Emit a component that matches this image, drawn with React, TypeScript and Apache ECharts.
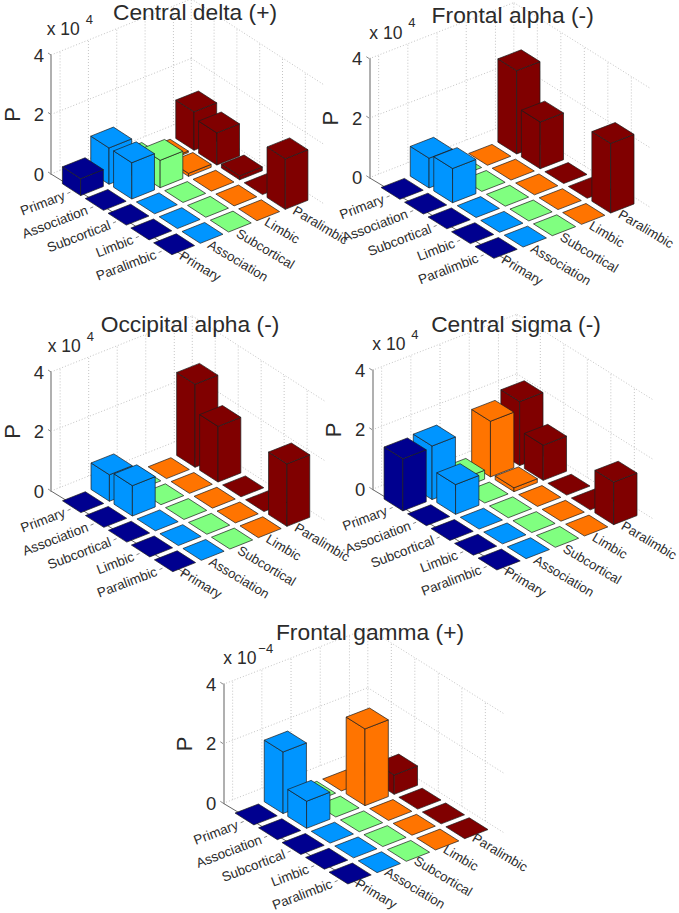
import React, { useEffect, useRef } from "react";
import * as echarts from "echarts";

const CATEGORIES = ["Primary", "Association", "Subcortical", "Limbic", "Paralimbic"];
const Z_TICKS = [0, 2, 4];

// Each inner list is one column (Primary..Paralimbic), values along the row axis (Primary..Paralimbic).
const CENTRAL_DELTA = [
  [0.57, 0, 0, 0, 0],
  [1.22, 1.22, 0, 0, 0],
  [0.32, 0.92, 0, 0, 0],
  [0.05, 0.1, 0, 0, 0],
  [1.29, 1.08, 0.13, 0, 1.7],
];
const FRONTAL_ALPHA = [
  [0, 0, 0, 0, 0],
  [1.0, 1.15, 0, 0, 0],
  [0, 0, 0, 0, 0],
  [0, 0, 0, 0, 0],
  [2.8, 1.57, 0, 0, 2.34],
];
const OCCIPITAL_ALPHA = [
  [0, 0, 0, 0, 0],
  [0.89, 1.02, 0, 0, 0],
  [0, 0, 0, 0, 0],
  [0, 0, 0, 0, 0],
  [2.79, 1.87, 0, 0, 2.1],
];
const CENTRAL_SIGMA = [
  [1.75, 0, 0, 0, 0],
  [1.8, 1.0, 0, 0, 0],
  [0.3, 0, 0, 0, 0],
  [1.87, 0.13, 0, 0, 0],
  [2.15, 1.18, 0, 0, 1.43],
];
const FRONTAL_GAMMA = [
  [0, 0, 0, 0, 0],
  [2.07, 0.91, 0, 0, 0],
  [0, 0, 0, 0, 0],
  [0, 2.58, 0, 0, 0],
  [0, 0.65, 0, 0, 0],
];

const TITLES = ["Central delta (+)", "Frontal alpha (-)", "Occipital alpha (-)", "Central sigma (-)", "Frontal gamma (+)"];
const EXPONENTS = ["4", "4", "4", "4", "\u22124"];
const MATRICES = [CENTRAL_DELTA, FRONTAL_ALPHA, OCCIPITAL_ALPHA, CENTRAL_SIGMA, FRONTAL_GAMMA];

// Pixel anchor (left floor corner) of each panel and title centre.
const ANCHORS = [[46.7, 174], [369.3, 177.7], [47.7, 491], [372.3, 489.3], [223.3, 803.3]];
const TITLE_CENTERS = [[195, 13], [512.7, 16], [190, 325], [516, 325.7], [370, 633]];
const COL_LABEL_DROP = [10.5, 10.5, 10.5, 10.5, 8.5];

const COL_COLORS = ["#00008f", "#0095ff", "#80ff80", "#ff7400", "#800000"];
const EDGE = "#1c1c1c";
const TEXT = "#2b2b2b";
const FONT = "Liberation Sans";

// Orthographic view, pixels per data unit.
const COL_X = 29.2, COL_Y = 11.33, ROW_X = 23.5, ROW_Y = 14.77, Z_UNIT = 29.75;
const C_MIN = -0.32, C_MAX = 4.63, R_MIN = -1.0, R_MAX = 4.82;
const BAR_W = 0.8;

// floor/wall coordinates -> the plane of the panel's cartesian axes
const plane = (c: number, r: number, z: number) => {
  const dc = c - C_MIN, dr = r - R_MIN;
  return [dc + (dr * ROW_X) / COL_X, z + (dc * COL_Y - dr * ROW_Y) / Z_UNIT];
};

const barRender = (color: string[]) => (_: any, api: any) => {
  const c = api.value(0), r = api.value(1), v = api.value(2);
  const h = BAR_W / 2;
  const P = (cc: number, rr: number, z: number) => api.coord(plane(cc, rr, z));
  const style = (fill: string) => ({ fill, stroke: EDGE, lineWidth: 0.7 });
  const fill = color[c];
  const kids: any[] = [];
  if (v > 0) {
    kids.push({ type: "polygon", shape: { points: [P(c - h, r - h, 0), P(c - h, r + h, 0), P(c - h, r + h, v), P(c - h, r - h, v)] }, style: style(fill) });
    kids.push({ type: "polygon", shape: { points: [P(c - h, r + h, 0), P(c + h, r + h, 0), P(c + h, r + h, v), P(c - h, r + h, v)] }, style: style(fill) });
  }
  kids.push({ type: "polygon", shape: { points: [P(c - h, r - h, v), P(c - h, r + h, v), P(c + h, r + h, v), P(c + h, r - h, v)] }, style: style(fill) });
  return { type: "group", children: kids };
};

const frameRender = (colDrop: number) => (_: any, api: any) => {
  const P = (c: number, r: number, z: number) => api.coord(plane(c, r, z));
  const kids: any[] = [];
  const dotted = { stroke: "#c4c4c4", lineWidth: 1, lineDash: [1, 2] };
  const seg = (a: number[], b: number[], style: any) =>
    kids.push({ type: "line", shape: { x1: a[0], y1: a[1], x2: b[0], y2: b[1] }, style });
  Z_TICKS.forEach((z) => {
    seg(P(C_MIN, R_MIN, z), P(C_MAX, R_MIN, z), dotted);
    seg(P(C_MAX, R_MIN, z), P(C_MAX, R_MAX, z), dotted);
    const t = P(C_MIN, R_MIN, z);
    seg(t, [t[0] - 3, t[1] - 2], { stroke: "#8a8a8a", lineWidth: 1 });
  });
  CATEGORIES.forEach((_n, i) => {
    seg(P(i, R_MIN, 0), P(i, R_MIN, 4), dotted);
    seg(P(C_MAX, i, 0), P(C_MAX, i, 4), dotted);
  });
  seg(P(C_MAX, R_MIN, 0), P(C_MAX, R_MIN, 4), dotted);
  // front row axis
  const F = P(C_MIN + 0.14, R_MIN + 5.73, 0);
  seg(P(C_MIN, R_MIN, 0), F, { stroke: "#666", lineWidth: 1 });
  CATEGORIES.forEach((name, i) => {
    const base = P(0, i, 0);
    const rowEnd = [base[0] - 18.5, base[1] + 9.8];
    const colBase = P(i, 4, 0);
    const colStart = [colBase[0] + 6.7, colBase[1] + colDrop];
    seg([rowEnd[0] + 3, rowEnd[1] - 1.5], [rowEnd[0] + 6, rowEnd[1] - 2.8], { stroke: "#888", lineWidth: 1 });
    kids.push({
      type: "text", x: rowEnd[0], y: rowEnd[1], rotation: (21 * Math.PI) / 180,
      style: { text: name, x: 0, y: 0, align: "right", verticalAlign: "middle", fill: TEXT, fontSize: 13.5, fontFamily: FONT },
    });
    kids.push({
      type: "text", x: colStart[0], y: colStart[1], rotation: (-31 * Math.PI) / 180,
      style: { text: name, x: 0, y: 0, align: "left", verticalAlign: "middle", fill: TEXT, fontSize: 13.2, fontFamily: FONT },
    });
  });
  return { type: "group", children: kids };
};

function buildOption() {
  const grid: any[] = [], xAxis: any[] = [], yAxis: any[] = [], series: any[] = [], title: any[] = [], graphic: any[] = [];
  MATRICES.forEach((matrix, p) => {
    const [lx, ly] = ANCHORS[p];
    grid.push({ left: lx, top: ly - 4 * Z_UNIT, width: 5 * COL_X, height: 4 * Z_UNIT });
    xAxis.push({ gridIndex: p, type: "value", min: 0, max: 5, show: false });
    yAxis.push({
      gridIndex: p, type: "value", min: 0, max: 4, interval: 2,
      name: "P", nameLocation: "middle", nameRotate: 90, nameGap: 28,
      nameTextStyle: { fontSize: 22, color: TEXT, fontFamily: FONT },
      axisLine: { show: true, lineStyle: { color: "#b0b0b0", width: 2 } },
      axisTick: { show: false },
      axisLabel: { fontSize: 18.5, color: TEXT, fontFamily: FONT, margin: 7 },
      splitLine: { show: false },
    });
    series.push({
      type: "custom", name: TITLES[p] + " frame", xAxisIndex: p, yAxisIndex: p, silent: true, z: 1,
      data: [[0, 0]], renderItem: frameRender(COL_LABEL_DROP[p]), clip: false,
    });
    const cells: number[][] = [];
    for (let c = matrix.length - 1; c >= 0; c--) {
      matrix[c].forEach((v, r) => cells.push([c, r, v]));
    }
    series.push({
      type: "custom", name: TITLES[p], xAxisIndex: p, yAxisIndex: p, silent: true, z: 3,
      data: cells, renderItem: barRender(COL_COLORS), clip: false,
    });
    const [tx, ty] = TITLE_CENTERS[p];
    title.push({
      text: TITLES[p], left: tx, top: ty - 13, textAlign: "center", padding: 0,
      textStyle: { fontSize: 22.8, fontWeight: "normal", color: TEXT, fontFamily: FONT },
    });
    graphic.push({
      type: "text", x: lx, y: ly - 145,
      style: { text: "x 10", verticalAlign: "middle", fill: TEXT, fontSize: 17.5, fontFamily: FONT },
    });
    graphic.push({
      type: "text", x: lx + (EXPONENTS[p].length > 1 ? 35 : 39), y: ly - 155,
      style: { text: EXPONENTS[p], verticalAlign: "middle", fill: TEXT, fontSize: 13, fontFamily: FONT },
    });
  });
  return { animation: false, backgroundColor: "#fff", grid, xAxis, yAxis, series, title, graphic };
}

export default function App() {
  const ref = useRef<HTMLDivElement>(null);
  useEffect(() => {
    const chart = echarts.init(ref.current!, undefined, { renderer: "svg" });
    chart.setOption(buildOption() as any);
    return () => chart.dispose();
  }, []);
  return <div ref={ref} style={{ width: 679, height: 913, position: "fixed", left: 0, top: 0 }} />;
}
